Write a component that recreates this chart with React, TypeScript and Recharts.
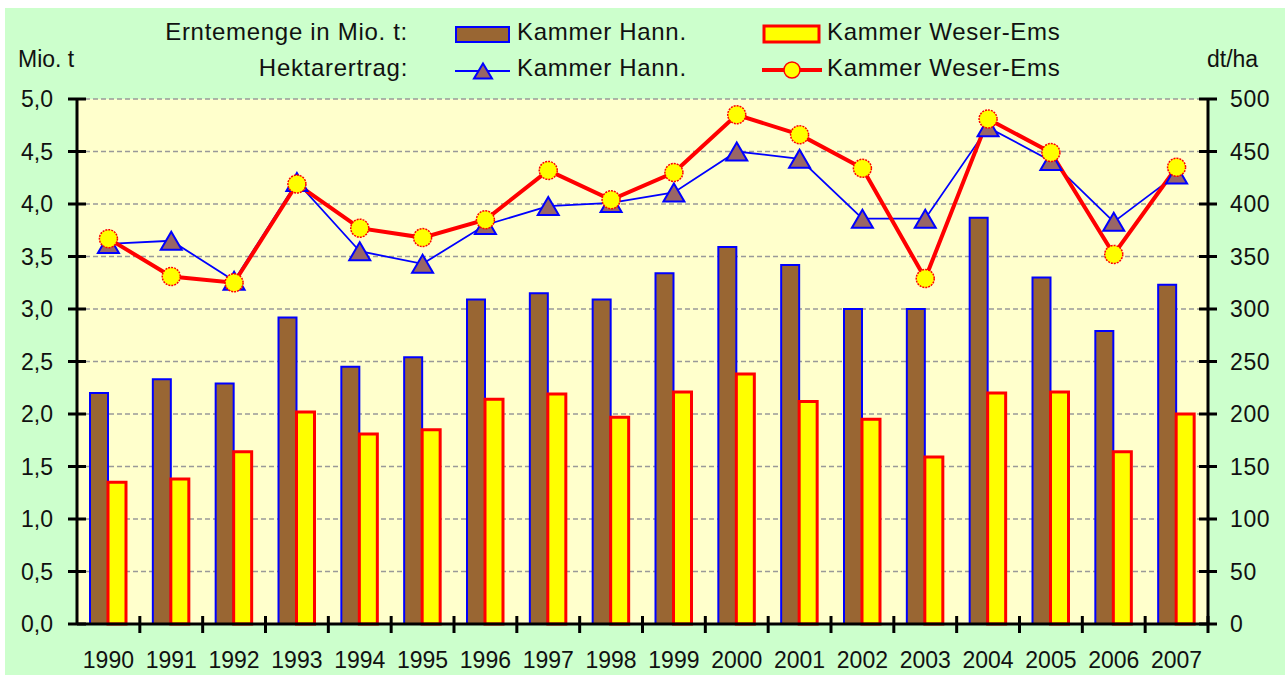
import React from 'react';
import { ComposedChart, Bar, Line, XAxis, YAxis, CartesianGrid } from 'recharts';

const years = ['1990', '1991', '1992', '1993', '1994', '1995', '1996', '1997', '1998', '1999', '2000', '2001', '2002', '2003', '2004', '2005', '2006', '2007'];
const hannMenge = [2.2, 2.33, 2.29, 2.92, 2.45, 2.54, 3.09, 3.15, 3.09, 3.34, 3.59, 3.42, 3.0, 3.0, 3.87, 3.3, 2.79, 3.23];
const weserMenge = [1.35, 1.38, 1.64, 2.02, 1.81, 1.85, 2.14, 2.19, 1.97, 2.21, 2.38, 2.12, 1.95, 1.59, 2.2, 2.21, 1.64, 2.0];
const hannErtrag = [362, 365, 327, 421, 355, 343, 380, 398, 401, 411, 450, 443, 386, 386, 473, 441, 383, 428];
const weserErtrag = [367, 331, 325, 419, 377, 368, 385, 432, 404, 430, 485, 466, 434, 329, 481, 449, 352, 435];
const leftTicks = [0, 0.5, 1, 1.5, 2, 2.5, 3, 3.5, 4, 4.5, 5];
const rightTicks = [0, 50, 100, 150, 200, 250, 300, 350, 400, 450, 500];

const data = years.map((y, i) => ({
  year: y,
  hannMenge: hannMenge[i],
  weserMenge: weserMenge[i],
  hannErtrag: hannErtrag[i],
  weserErtrag: weserErtrag[i],
}));

const FONT = '"Liberation Sans", Arial, sans-serif';
const W = 1280;
const H = 667;
const LEFT_W = 72;
const RIGHT_W = 77;
const HALF_BAND = (W - LEFT_W - RIGHT_W) / years.length / 2;

const XTick = (props: any) => {
  const { x, y, payload } = props;
  return (
    <g>
      <line x1={x + HALF_BAND} x2={x + HALF_BAND} y1={y - 8} y2={y + 9} stroke="#000" strokeWidth={3} />
      <text x={x} y={y + 44} textAnchor="middle" fontSize={23} fill="#111" fontFamily={FONT}>
        {payload.value}
      </text>
    </g>
  );
};

const LeftTick = (props: any) => {
  const { x, y, payload } = props;
  return (
    <g>
      <line x1={x - 9} x2={x + 9} y1={y} y2={y} stroke="#000" strokeWidth={3} />
      <text x={x - 24} y={y + 8} textAnchor="end" fontSize={23} fill="#111" fontFamily={FONT}>
        {Number(payload.value).toFixed(1).replace('.', ',')}
      </text>
    </g>
  );
};

const RightTick = (props: any) => {
  const { x, y, payload } = props;
  return (
    <g>
      <line x1={x - 9} x2={x + 9} y1={y} y2={y} stroke="#000" strokeWidth={3} />
      <text x={x + 22} y={y + 8} textAnchor="start" fontSize={23} letterSpacing={0.6} fill="#111" fontFamily={FONT}>
        {payload.value}
      </text>
    </g>
  );
};

const TriangleDot = (props: any) => {
  const { cx, cy, index } = props;
  if (cx == null || cy == null) return <g key={index} />;
  return (
    <polygon
      key={index}
      points={`${cx},${cy - 9} ${cx + 10.5},${cy + 9} ${cx - 10.5},${cy + 9}`}
      fill="#996666"
      stroke="#0000FF"
      strokeWidth={2}
    />
  );
};

const CircleDot = (props: any) => {
  const { cx, cy, index } = props;
  if (cx == null || cy == null) return <g key={index} />;
  return <circle key={index} cx={cx} cy={cy} r={9} fill="#FFFF00" stroke="#FF0000" strokeWidth={1.5} strokeDasharray="2 1" />;
};

const LegendOverlay = () => (
  <svg
    width={W}
    height={90}
    style={{ position: 'absolute', left: 0, top: 0, pointerEvents: 'none' }}
    fontFamily={FONT}
  >
    <g fontSize={24} fill="#111" letterSpacing={0.7}>
      <text x={403} y={32} textAnchor="end">Erntemenge in Mio. t:</text>
      <text x={403} y={68} textAnchor="end">Hektarertrag:</text>
      <text x={512} y={32}>Kammer Hann.</text>
      <text x={512} y={68}>Kammer Hann.</text>
      <text x={822} y={32}>Kammer Weser-Ems</text>
      <text x={822} y={68}>Kammer Weser-Ems</text>
    </g>
    <rect x={451} y={19} width={53} height={15} fill="#996633" stroke="#0000FF" strokeWidth={2} />
    <rect x={759} y={18} width={55} height={16} fill="#FFFF00" stroke="#FF0000" strokeWidth={3} />
    <line x1={450} x2={505} y1={63} y2={63} stroke="#0000FF" strokeWidth={2} />
    <polygon points="478,55.5 487,70.5 469,70.5" fill="#996666" stroke="#0000FF" strokeWidth={2} />
    <line x1={757} x2={817} y1={62} y2={62} stroke="#FF0000" strokeWidth={4} />
    <circle cx={787} cy={62} r={8} fill="#FFFF00" stroke="#FF0000" strokeWidth={1.5} />
    <g fontSize={23} fill="#111">
      <text x={13} y={59}>Mio. t</text>
      <text x={1202} y={59}>dt/ha</text>
    </g>
  </svg>
);

export default function App() {
  return (
    <>
      <style>{`body{margin:0;overflow:hidden;background:#fff}`}</style>
      <div style={{ position: 'absolute', left: 5, top: 8, width: W, height: H, background: '#CCFFCC' }}>
        <ComposedChart
          width={W}
          height={H}
          data={data}
          margin={{ top: 91, right: 0, bottom: 0, left: 0 }}
          barCategoryGap={13}
          barGap={0}
        >
          <CartesianGrid
            yAxisId="left"
            vertical={false}
            fill="#FFFFCC"
            stroke="#999999"
            strokeWidth={1.5}
            strokeDasharray="5 3"
          />
          <XAxis
            dataKey="year"
            interval={0}
            tickSize={0}
            tickMargin={0}
            tickLine={false}
            height={51}
            axisLine={{ stroke: '#000', strokeWidth: 3 }}
            tick={<XTick />}
          />
          <YAxis
            yAxisId="left"
            orientation="left"
            domain={[0, 5]}
            ticks={leftTicks}
            width={LEFT_W}
            tickSize={0}
            tickMargin={0}
            tickLine={false}
            axisLine={{ stroke: '#000', strokeWidth: 3 }}
            tick={<LeftTick />}
            interval={0}
          />
          <YAxis
            yAxisId="right"
            orientation="right"
            domain={[0, 500]}
            ticks={rightTicks}
            width={RIGHT_W}
            tickSize={0}
            tickMargin={0}
            tickLine={false}
            axisLine={{ stroke: '#000', strokeWidth: 3 }}
            tick={<RightTick />}
            interval={0}
          />
          <Bar yAxisId="left" dataKey="hannMenge" fill="#996633" stroke="#0000FF" strokeWidth={2} isAnimationActive={false} />
          <Bar yAxisId="left" dataKey="weserMenge" fill="#FFFF00" stroke="#FF0000" strokeWidth={3} isAnimationActive={false} />
          <Line
            yAxisId="right"
            dataKey="hannErtrag"
            stroke="#0000FF"
            strokeWidth={1.8}
            dot={<TriangleDot />}
            activeDot={false}
            isAnimationActive={false}
          />
          <Line
            yAxisId="right"
            dataKey="weserErtrag"
            stroke="#FF0000"
            strokeWidth={4}
            dot={<CircleDot />}
            activeDot={false}
            isAnimationActive={false}
          />
        </ComposedChart>
        <LegendOverlay />
      </div>
    </>
  );
}
